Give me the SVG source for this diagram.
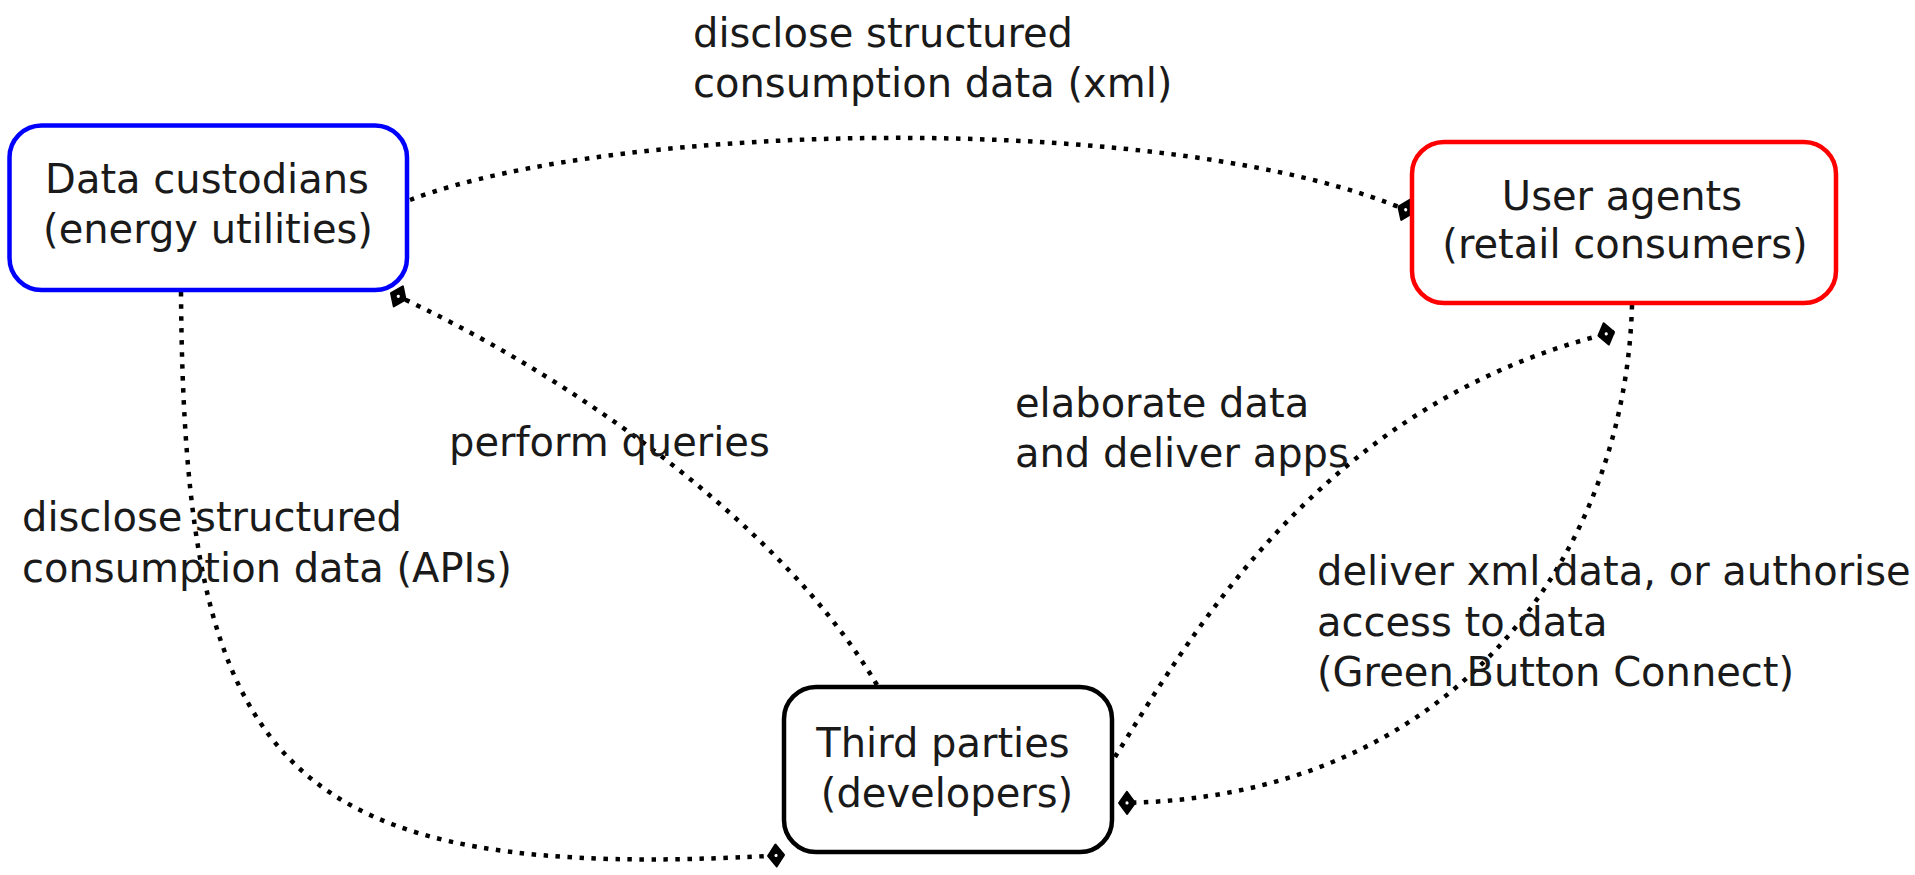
<svg xmlns="http://www.w3.org/2000/svg" width="1915" height="875" viewBox="0 0 1915 875">
  <style>
    .box { fill: #ffffff; stroke-width: 4.5; }
    .lbl { font-family: "DejaVu Sans", "Liberation Sans", sans-serif; font-size: 40px; fill: #1a1a1a; }
    .mid { text-anchor: middle; }
    .link { fill: none; stroke: #000000; stroke-width: 4.5; stroke-dasharray: 4.5 7.5; marker-end: url(#diamond); }
  </style>
  <defs>
    <!-- filled diamond end marker with a small pale centre -->
    <marker id="diamond" markerUnits="userSpaceOnUse" viewBox="-3 -14 22 28" markerWidth="22" markerHeight="28" refX="16" refY="0" orient="auto">
      <path d="M0,0 L8,-11 L16,0 L8,11 Z" fill="#000000" stroke="#000000" stroke-width="2" stroke-linejoin="round"/>
      <circle cx="8" cy="0" r="1.6" fill="#ffffff"/>
    </marker>
  </defs>
  <rect width="1915" height="875" fill="#ffffff"/>

  <g id="connectors">
    <path class="link" d="M410,200 C620,120 1180,110 1413,213"/>
    <path class="link" d="M877,685 C780,520 560,370 391,293"/>
    <path class="link" d="M181,292 C184,770 280,885 784,855"/>
    <path class="link" d="M1115,757 C1200,620 1330,400 1614,332"/>
    <path class="link" d="M1632,305 C1625,560 1450,800 1119,803"/>
  </g>

  <g id="data-custodians">
    <rect class="box" x="9.5" y="125.5" width="397.5" height="164.5" rx="32" stroke="#0000ff"/>
    <text class="lbl mid" x="207" y="193">Data custodians</text>
    <text class="lbl mid" x="208" y="243">(energy utilities)</text>
  </g>

  <g id="user-agents">
    <rect class="box" x="1412" y="142" width="424" height="161" rx="32" stroke="#ff0000"/>
    <text class="lbl mid" x="1622" y="210">User agents</text>
    <text class="lbl mid" x="1625" y="258">(retail consumers)</text>
  </g>

  <g id="third-parties">
    <rect class="box" x="784" y="687" width="328" height="165" rx="32" stroke="#000000"/>
    <text class="lbl mid" x="943" y="757">Third parties</text>
    <text class="lbl mid" x="947" y="807">(developers)</text>
  </g>

  <g id="labels">
    <text class="lbl" x="693" y="47">disclose structured</text>
    <text class="lbl" x="693" y="97">consumption data (xml)</text>
    <text class="lbl" x="449" y="456">perform queries</text>
    <text class="lbl" x="22" y="531">disclose structured</text>
    <text class="lbl" x="22" y="582">consumption data (APIs)</text>
    <text class="lbl" x="1015" y="417">elaborate data</text>
    <text class="lbl" x="1015" y="467">and deliver apps</text>
    <text class="lbl" x="1317" y="585">deliver xml data, or authorise</text>
    <text class="lbl" x="1317" y="636">access to data</text>
    <text class="lbl" x="1317" y="686">(Green Button Connect)</text>
  </g>
</svg>
